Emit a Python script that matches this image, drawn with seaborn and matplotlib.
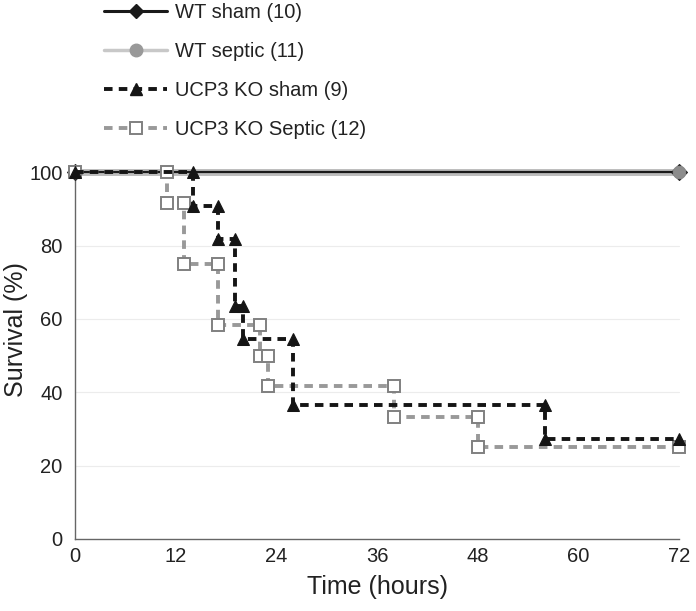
import matplotlib
matplotlib.use("Agg")
import matplotlib.pyplot as plt
import pandas as pd
import seaborn as sns

# event times (hours) and survival (%) after each event
wt_times = [0, 72]
wt_sham_surv = [100, 100]
wt_septic_surv = [100, 100]
ko_sham_times = [0, 14, 17, 19, 20, 26, 56, 72]
ko_sham_surv = [100, 90.9, 81.8, 63.6, 54.5, 36.4, 27.3, 27.3]
ko_septic_times = [0, 11, 13, 17, 22, 23, 38, 48, 72]
ko_septic_surv = [100, 91.7, 75, 58.3, 50, 41.7, 33.3, 25, 25]

labels = ["WT sham (10)", "WT septic (11)", "UCP3 KO sham (9)", "UCP3 KO Septic (12)"]
x_ticks = [0, 12, 24, 36, 48, 60, 72]
y_ticks = [0, 20, 40, 60, 80, 100]


def step_points(times, surv):
    # Kaplan-Meier style vertices: horizontal then vertical drop at each event
    xs, ys = [times[0]], [surv[0]]
    for i in range(1, len(times)):
        xs.append(times[i])
        ys.append(surv[i - 1])
        if surv[i] != surv[i - 1]:
            xs.append(times[i])
            ys.append(surv[i])
    return pd.DataFrame({"t": xs, "s": ys})


sns.set_style("white")
plt.rcParams["font.family"] = ["Liberation Sans", "DejaVu Sans"]

fig = plt.figure(figsize=(6.96, 6.11), dpi=100)
ax = fig.add_axes([0.108, 0.118, 0.868, 0.600])

for y in y_ticks[1:]:
    ax.axhline(y, color="#ececec", lw=0.8, zorder=0)

sham = step_points(wt_times, wt_sham_surv)
septic = step_points(wt_times, wt_septic_surv)
kos = step_points(ko_sham_times, ko_sham_surv)
kosep = step_points(ko_septic_times, ko_septic_surv)

sns.lineplot(data=septic, x="t", y="s", ax=ax, sort=False, estimator=None,
             color="#bdbdbd", lw=5, zorder=2, legend=False)
sns.lineplot(data=sham, x="t", y="s", ax=ax, sort=False, estimator=None,
             color="#1a1a1a", lw=1.6, marker="D", markersize=8,
             markeredgecolor="#1a1a1a", zorder=3, legend=False)
sns.lineplot(data=septic, x="t", y="s", ax=ax, sort=False, estimator=None,
             color="#bdbdbd", lw=2.5, marker="o", markersize=9,
             markerfacecolor="#8c8c8c", markeredgecolor="#8c8c8c",
             linestyle="none", zorder=4, legend=False)
sns.lineplot(data=kosep, x="t", y="s", ax=ax, sort=False, estimator=None,
             color="#999999", lw=2.8, dashes=(2.2, 1.6), marker="s", markersize=9,
             markerfacecolor="white", markeredgecolor="#808080", markeredgewidth=1.4,
             zorder=5, legend=False)
sns.lineplot(data=kos, x="t", y="s", ax=ax, sort=False, estimator=None,
             color="#151515", lw=2.8, dashes=(2.2, 1.6), marker="^", markersize=9,
             markeredgecolor="#151515", zorder=6, legend=False)

for line in ax.lines:
    line.set_clip_on(False)

# legend proxies
h1, = ax.plot([], [], color="#1a1a1a", lw=2.2, marker="D", markersize=7)
h2, = ax.plot([], [], color="#c8c8c8", lw=2.5, marker="o", markersize=9,
              markerfacecolor="#999999", markeredgecolor="#999999")
h3, = ax.plot([], [], color="#151515", lw=2.8, dashes=(2.2, 1.6), marker="^", markersize=8)
h4, = ax.plot([], [], color="#999999", lw=2.8, dashes=(2.2, 1.6), marker="s", markersize=8,
              markerfacecolor="white", markeredgecolor="#808080", markeredgewidth=1.4)

ax.set_xlim(0, 72)
ax.set_ylim(0, 100)
ax.set_xticks(x_ticks)
ax.set_yticks(y_ticks)
for s in ["top", "right"]:
    ax.spines[s].set_visible(False)
for s in ["left", "bottom"]:
    ax.spines[s].set_color("#666666")
    ax.spines[s].set_linewidth(1.0)
ax.tick_params(axis="both", direction="inout", length=8, width=1.0,
               color="#666666", labelsize=14.5, labelcolor="#222222", pad=5)
ax.tick_params(axis="x", pad=2)
ax.set_xlabel("Time (hours)", fontsize=18, color="#222222", labelpad=6)
ax.set_ylabel("Survival (%)", fontsize=18, color="#222222")
ax.yaxis.set_label_coords(-0.078, 0.57)

fig.legend([h1, h2, h3, h4], labels, loc="upper left",
           bbox_to_anchor=(0.124, 1.025), frameon=False, fontsize=14.5,
           handlelength=3.1, handletextpad=0.4, labelspacing=1.0,
           labelcolor="#222222")

fig.savefig("out.png", dpi=100)
